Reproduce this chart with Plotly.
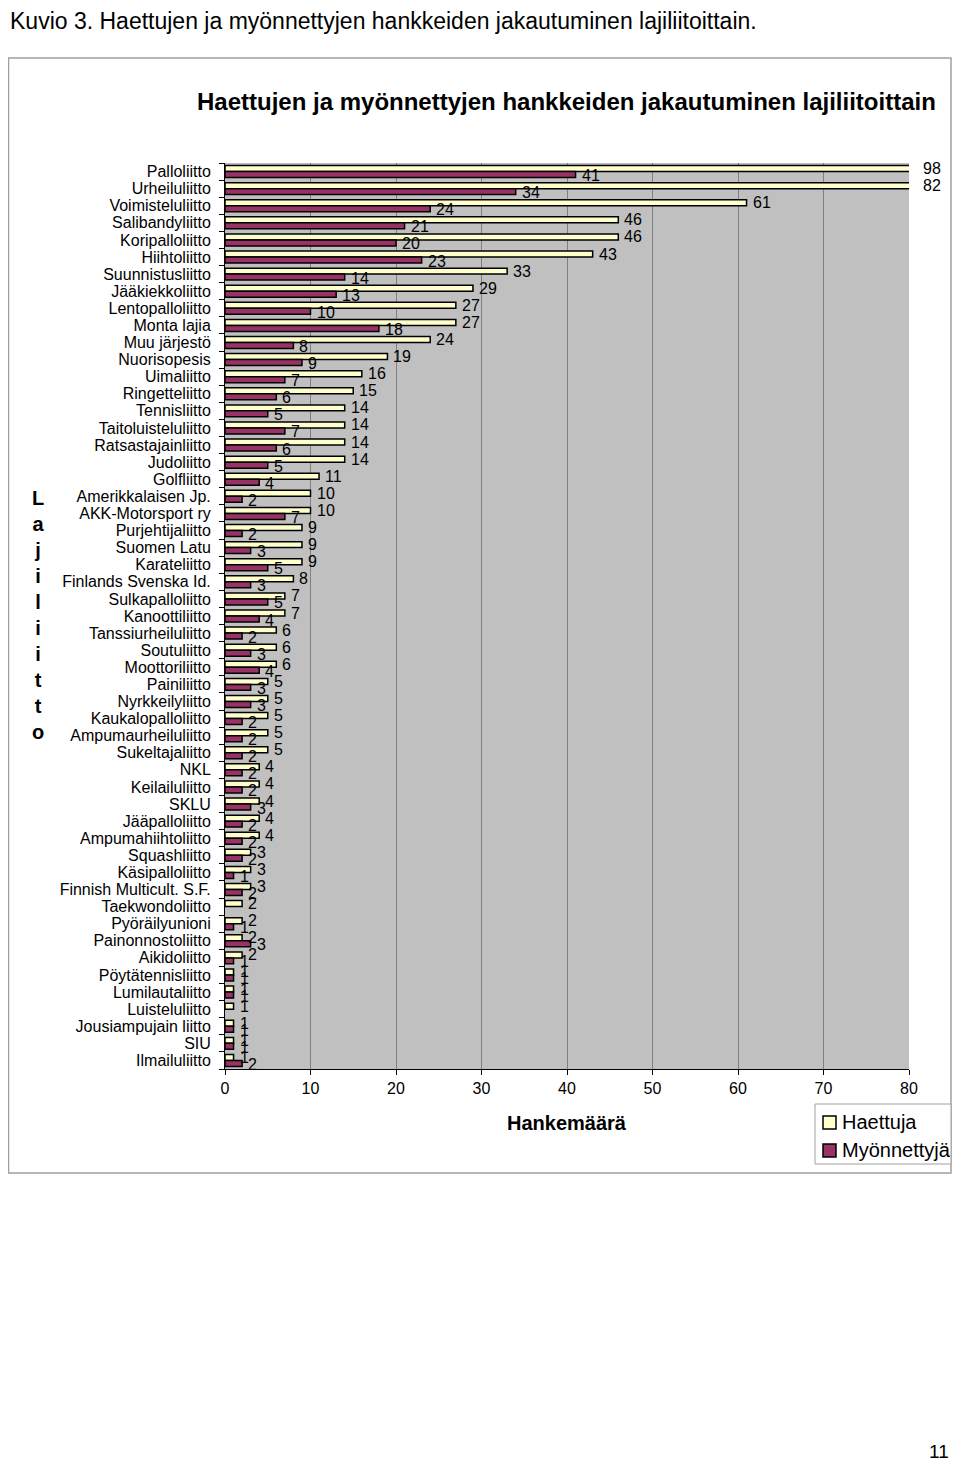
import plotly.graph_objects as go

categories = ["Palloliitto", "Urheiluliitto", "Voimisteluliitto", "Salibandyliitto", "Koripalloliitto",
              "Hiihtoliitto", "Suunnistusliitto", "Jääkiekkoliitto", "Lentopalloliitto", "Monta lajia",
              "Muu järjestö", "Nuorisopesis", "Uimaliitto", "Ringetteliitto", "Tennisliitto",
              "Taitoluisteluliitto", "Ratsastajainliitto", "Judoliitto", "Golfliitto", "Amerikkalaisen Jp.",
              "AKK-Motorsport ry", "Purjehtijaliitto", "Suomen Latu", "Karateliitto", "Finlands Svenska Id.",
              "Sulkapalloliitto", "Kanoottiliitto", "Tanssiurheiluliitto", "Soutuliitto", "Moottoriliitto",
              "Painiliitto", "Nyrkkeilyliitto", "Kaukalopalloliitto", "Ampumaurheiluliitto", "Sukeltajaliitto",
              "NKL", "Keilailuliitto", "SKLU", "Jääpalloliitto", "Ampumahiihtoliitto",
              "Squashliitto", "Käsipalloliitto", "Finnish Multicult. S.F.", "Taekwondoliitto", "Pyöräilyunioni",
              "Painonnostoliitto", "Aikidoliitto", "Pöytätennisliitto", "Lumilautaliitto", "Luisteluliitto",
              "Jousiampujain liitto", "SIU", "Ilmailuliitto"]

haettuja = [98, 82, 61, 46, 46, 43, 33, 29, 27, 27,
            24, 19, 16, 15, 14, 14, 14, 14, 11, 10,
            10, 9, 9, 9, 8, 7, 7, 6, 6, 6,
            5, 5, 5, 5, 5, 4, 4, 4, 4, 4,
            3, 3, 3, 2, 2, 2, 2, 1, 1, 1,
            1, 1, 1]

myonnettyja = [41, 34, 24, 21, 20, 23, 14, 13, 10, 18,
               8, 9, 7, 6, 5, 7, 6, 5, 4, 2,
               7, 2, 3, 5, 3, 5, 4, 2, 3, 4,
               3, 3, 2, 2, 2, 2, 2, 3, 2, 2,
               2, 1, 2, None, 1, 3, 1, 1, 1, None,
               1, 1, 2]

series_names = ["Haettuja", "Myönnettyjä"]
x_ticks = [0, 10, 20, 30, 40, 50, 60, 70, 80]
XMAX = 80

FONT = "Liberation Sans, Arial, sans-serif"
CREAM = "#FFFFCC"
MAROON = "#993366"
BORDER_GRAY = "#a0a0a0"

# page offset (body margin) and figure geometry
OFF = 8
W, H = 944, 1463
L, R, T, B = 217, 43, 155, 402
pw, ph = W - L - R, H - T - B


def fp(px, py):
    """reference page pixel -> paper coords"""
    fx, fy = px - OFF, py - OFF
    return (fx - L) / pw, (H - B - fy) / ph


fig = go.Figure()
fig.add_trace(go.Bar(name=series_names[0], y=categories, x=haettuja, orientation="h",
                     marker=dict(color=CREAM, line=dict(color="black", width=1.5)), showlegend=False))
fig.add_trace(go.Bar(name=series_names[1], y=categories, x=myonnettyja, orientation="h",
                     marker=dict(color=MAROON, line=dict(color="black", width=1.5)), showlegend=False))

annotations = []
for cat, h, m in zip(categories, haettuja, myonnettyja):
    for val, ys in ((h, 3), (m, -4)):
        if val is None:
            continue
        clipped = val > XMAX
        annotations.append(dict(x=min(val, XMAX), y=cat, xref="x", yref="y", text=str(val),
                                showarrow=False, xanchor="left", yanchor="middle",
                                xshift=12 if clipped else 4, yshift=ys,
                                font=dict(family=FONT, size=16, color="black")))


def ann(px, py, text, size, bold=False, xanchor="center", yanchor="middle"):
    x, y = fp(px, py)
    t = f"<b>{text}</b>" if bold else text
    annotations.append(dict(x=x, y=y, xref="paper", yref="paper", text=t, showarrow=False,
                            xanchor=xanchor, yanchor=yanchor,
                            font=dict(family=FONT, size=size, color="black")))


ann(8, 21, "Kuvio 3. Haettujen ja myönnettyjen hankkeiden jakautuminen lajiliitoittain.", 23, xanchor="left")
ann(566, 101, "Haettujen ja myönnettyjen hankkeiden jakautuminen lajiliitoittain", 24, bold=True)
ann(567, 1123, "Hankemäärä", 20, bold=True)
ann(38, 615, "<br>".join(list("Lajiliitto")), 20, bold=True)
ann(951, 1451, "11", 19, xanchor="right")

shapes = []
bx0, by0 = fp(OFF + 0.5, 58)
bx1, by1 = fp(OFF + W - 1, 1173)
shapes.append(dict(type="rect", xref="paper", yref="paper", x0=bx0, x1=bx1, y0=by1, y1=by0,
                   line=dict(color=BORDER_GRAY, width=1.5), fillcolor="rgba(0,0,0,0)", layer="below"))

# legend (manual, to match layout)
lx0, ly0 = fp(815, 1104)
lx1, ly1 = fp(OFF + W - 1, 1164)
shapes.append(dict(type="rect", xref="paper", yref="paper", x0=lx0, x1=lx1, y0=ly1, y1=ly0,
                   line=dict(color=BORDER_GRAY, width=1), fillcolor="white"))
for name, color, cy in ((series_names[0], CREAM, 1122), (series_names[1], MAROON, 1150)):
    sx0, sy0 = fp(823, cy - 6)
    sx1, sy1 = fp(836, cy + 7)
    shapes.append(dict(type="rect", xref="paper", yref="paper", x0=sx0, x1=sx1, y0=sy1, y1=sy0,
                       line=dict(color="black", width=1.5), fillcolor=color))
    ann(840, cy, name, 20, xanchor="left")

n_cat = len(categories)

fig.update_layout(
    width=W, height=H,
    autosize=False,
    margin=dict(l=L, r=R, t=T, b=B),
    paper_bgcolor="white",
    plot_bgcolor="#C0C0C0",
    barmode="group",
    bargap=0.3,
    bargroupgap=0,
    font=dict(family=FONT, size=16, color="black"),
    showlegend=False,
    annotations=annotations,
    shapes=shapes,
    xaxis=dict(range=[0, XMAX], tickvals=x_ticks, ticks="outside", ticklen=5, tickcolor="black",
               showgrid=True, gridcolor="#808080", gridwidth=1, zeroline=False,
               showline=True, linecolor="black", linewidth=1, mirror=False,
               tickfont=dict(family=FONT, size=16), fixedrange=True),
    yaxis=dict(range=[n_cat - 0.5, -0.5], autorange=False, type="category", tickmode="array",
               tickvals=categories, ticktext=categories,
               ticks="outside", ticklen=5, tickcolor="black",
               tickson="boundaries", showline=True, linecolor="black", linewidth=1,
               showgrid=False, tickfont=dict(family=FONT, size=16), ticklabelstandoff=10),
)

fig.write_html("out.html")
